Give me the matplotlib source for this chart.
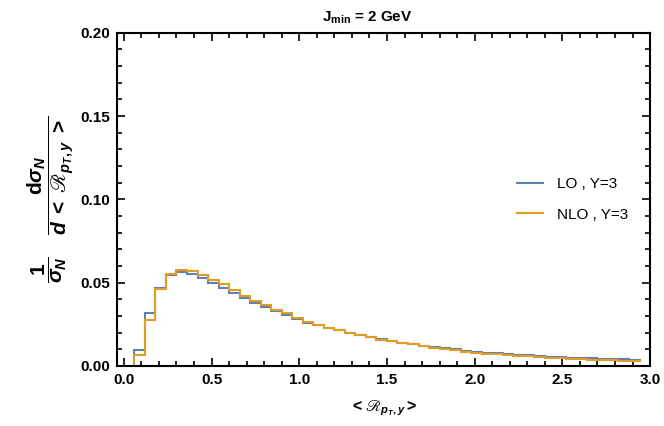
import numpy as np
import matplotlib
matplotlib.use("Agg")
import matplotlib.pyplot as plt
from matplotlib.ticker import MultipleLocator, FormatStrFormatter

plt.rcParams['font.family'] = ['Liberation Sans', 'DejaVu Sans']
plt.rcParams['mathtext.fontset'] = 'custom'
plt.rcParams['mathtext.rm'] = 'Liberation Sans:bold'
plt.rcParams['mathtext.it'] = 'Liberation Sans:italic:bold'
plt.rcParams['mathtext.bf'] = 'Liberation Sans:bold'
plt.rcParams['mathtext.fallback'] = 'stix'

bin_width = 0.06
first_edge = 0.06

lo_values = [0.0096, 0.0317, 0.0468, 0.0544, 0.0562, 0.0554, 0.0528, 0.0498,
             0.0465, 0.0438, 0.0406, 0.0378, 0.0351, 0.0327, 0.0303, 0.0281,
             0.0257, 0.0245, 0.0228, 0.0213, 0.0197, 0.0186, 0.0175, 0.0160,
             0.0150, 0.0140, 0.0132, 0.0121, 0.0111, 0.0107, 0.0101, 0.0091,
             0.0086, 0.0080, 0.0077, 0.0072, 0.0068, 0.0064, 0.0060, 0.0056,
             0.0053, 0.0050, 0.0047, 0.0045, 0.0043, 0.0041, 0.0039, 0.0037]

nlo_values = [0.0068, 0.0277, 0.0462, 0.0554, 0.0574, 0.0570, 0.0548, 0.0518,
              0.0490, 0.0456, 0.0418, 0.0392, 0.0367, 0.0337, 0.0315, 0.0287,
              0.0263, 0.0247, 0.0229, 0.0217, 0.0197, 0.0185, 0.0173, 0.0157,
              0.0147, 0.0137, 0.0129, 0.0117, 0.0107, 0.0101, 0.0095, 0.0086,
              0.0080, 0.0074, 0.0071, 0.0066, 0.0062, 0.0058, 0.0054, 0.0050,
              0.0047, 0.0044, 0.0041, 0.0038, 0.0036, 0.0033, 0.0031, 0.0029]

series_labels = ['LO , Y=3', 'NLO , Y=3']
series_colors = ['#5E81B5', '#E19C24']

edges = first_edge + bin_width * np.arange(len(lo_values) + 1)


def step_path(vals):
    x = np.repeat(edges, 2)[:-1]
    y = np.concatenate([[0.0], np.repeat(vals, 2)])
    return x, y


fig = plt.figure(figsize=(6.64, 4.26), dpi=100)
ax = fig.add_axes([0.176, 0.141, 0.803, 0.782])

for vals, lab, col in zip([lo_values, nlo_values], series_labels, series_colors):
    x, y = step_path(np.array(vals))
    ax.plot(x, y, color=col, lw=1.5, label=lab, solid_joinstyle='miter')

ax.set_xlim(-0.04, 3.0)
ax.set_ylim(0, 0.2)
ax.xaxis.set_major_locator(MultipleLocator(0.5))
ax.xaxis.set_minor_locator(MultipleLocator(0.1))
ax.yaxis.set_major_locator(MultipleLocator(0.05))
ax.yaxis.set_minor_locator(MultipleLocator(0.01))
ax.xaxis.set_major_formatter(FormatStrFormatter('%.1f'))
ax.yaxis.set_major_formatter(FormatStrFormatter('%.2f'))
ax.tick_params(which='both', direction='in', top=True, right=True, width=1.2)
ax.tick_params(which='major', length=6, labelsize=11, pad=5)
ax.tick_params(which='minor', length=3.5)
for lbl in ax.get_xticklabels() + ax.get_yticklabels():
    lbl.set_fontweight('bold')
for s in ax.spines.values():
    s.set_linewidth(1.5)

ax.set_title(r'$\mathrm{J_{min}}$ = 2 GeV', fontsize=11, fontweight='bold', pad=8, x=0.47)
ax.set_xlabel(r'$<ℛ_{p_T{,}\,y}>$', fontsize=11.5, labelpad=8)
ax.set_ylabel(r'$\dfrac{1}{\sigma_N}\;\;\;\;\dfrac{\mathrm{d}\sigma_N}{d\;<\;ℛ_{p_T{,}\,y}\;>}$',
              fontsize=15, labelpad=3)

leg = ax.legend(loc='center right', bbox_to_anchor=(0.985, 0.5), frameon=False,
                fontsize=11, handlelength=1.7, labelspacing=1.1, handletextpad=0.9)

fig.savefig('out.png', dpi=100)
